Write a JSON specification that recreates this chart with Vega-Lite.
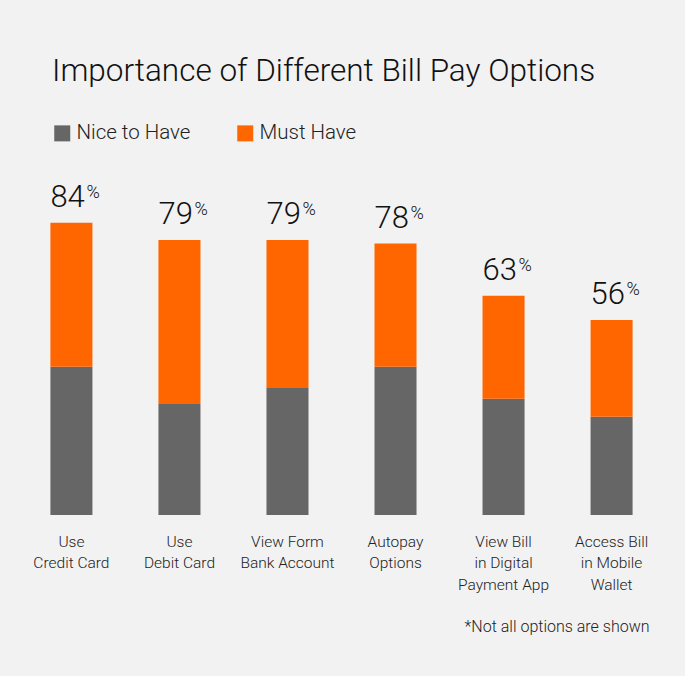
{
  "$schema": "https://vega.github.io/schema/vega-lite/v6.json",
  "autosize": "none",
  "width": 647,
  "height": 348,
  "padding": {"left": 18, "top": 167, "right": 20, "bottom": 161},
  "background": "#f2f2f2",
  "config": {"view": {"stroke": null}, "font": "Roboto"},
  "title": {
    "text": "Importance of Different Bill Pay Options",
    "anchor": "start",
    "frame": "group",
    "font": "Roboto",
    "fontWeight": 300,
    "fontSize": 31.5,
    "color": "#111111",
    "dx": 34,
    "offset": 36
  },
  "datasets": {
    "bars": [
      {"option": "Use|Credit Card", "type": "Nice to Have", "value": 42.6},
      {"option": "Use|Credit Card", "type": "Must Have", "value": 41.4},
      {"option": "Use|Debit Card", "type": "Nice to Have", "value": 31.9},
      {"option": "Use|Debit Card", "type": "Must Have", "value": 47.1},
      {"option": "View Form|Bank Account", "type": "Nice to Have", "value": 36.5},
      {"option": "View Form|Bank Account", "type": "Must Have", "value": 42.5},
      {"option": "Autopay|Options", "type": "Nice to Have", "value": 42.6},
      {"option": "Autopay|Options", "type": "Must Have", "value": 35.4},
      {"option": "View Bill|in Digital|Payment App", "type": "Nice to Have", "value": 33.4},
      {"option": "View Bill|in Digital|Payment App", "type": "Must Have", "value": 29.6},
      {"option": "Access Bill|in Mobile|Wallet", "type": "Nice to Have", "value": 28.2},
      {"option": "Access Bill|in Mobile|Wallet", "type": "Must Have", "value": 27.8}
    ],
    "totals": [
      {"option": "Use|Credit Card", "total": 84},
      {"option": "Use|Debit Card", "total": 79},
      {"option": "View Form|Bank Account", "total": 79},
      {"option": "Autopay|Options", "total": 78},
      {"option": "View Bill|in Digital|Payment App", "total": 63},
      {"option": "Access Bill|in Mobile|Wallet", "total": 56}
    ]
  },
  "encoding": {
    "x": {
      "field": "option",
      "type": "nominal",
      "sort": null,
      "scale": {"paddingInner": 0.611, "paddingOuter": 0.3},
      "axis": {
        "domain": false,
        "ticks": false,
        "labelAngle": 0,
        "labelExpr": "split(datum.label, '|')",
        "labelFont": "Roboto",
        "labelFontWeight": 300,
        "labelFontSize": 15.5,
        "labelColor": "#222222",
        "labelLineHeight": 21.5,
        "labelBaseline": "top",
        "labelPadding": 19,
        "labelLimit": 0,
        "title": "*Not all options are shown",
        "titleFont": "Roboto",
        "titleFontWeight": 300,
        "titleFontSize": 16,
        "titleColor": "#222222",
        "titleAnchor": "end",
        "titleAlign": "right",
        "titleBaseline": "middle",
        "titleX": 631,
        "titleY": 111
      }
    }
  },
  "layer": [
    {
      "data": {"name": "bars"},
      "mark": {"type": "bar"},
      "encoding": {
        "y": {"field": "value", "type": "quantitative", "stack": "zero", "scale": {"domain": [0, 100]}, "axis": null},
        "color": {
          "field": "type",
          "type": "nominal",
          "scale": {"domain": ["Nice to Have", "Must Have"], "range": ["#666666", "#ff6600"]},
          "legend": {
            "title": null,
            "orient": "none",
            "direction": "horizontal",
            "legendX": 34,
            "legendY": -44,
            "symbolType": "square",
            "symbolSize": 256,
            "symbolStrokeWidth": 0,
            "labelFont": "Roboto",
            "labelFontWeight": 300,
            "labelFontSize": 20.5,
            "labelColor": "#222222",
            "labelOffset": 4,
            "columnPadding": 44
          }
        },
        "order": {"field": "type", "sort": "descending"}
      }
    },
    {
      "data": {"name": "totals"},
      "mark": {"type": "text", "align": "left", "baseline": "alphabetic", "dx": -21, "dy": -16, "fontSize": 31, "font": "Roboto", "fontWeight": 300, "color": "#111111"},
      "encoding": {
        "y": {"field": "total", "type": "quantitative"},
        "text": {"field": "total", "type": "nominal"}
      }
    },
    {
      "data": {"name": "totals"},
      "mark": {"type": "text", "align": "left", "baseline": "alphabetic", "dx": 15, "dy": -25, "fontSize": 18, "font": "Roboto", "fontWeight": 300, "color": "#111111"},
      "encoding": {
        "y": {"field": "total", "type": "quantitative"},
        "text": {"value": "%"}
      }
    }
  ]
}
